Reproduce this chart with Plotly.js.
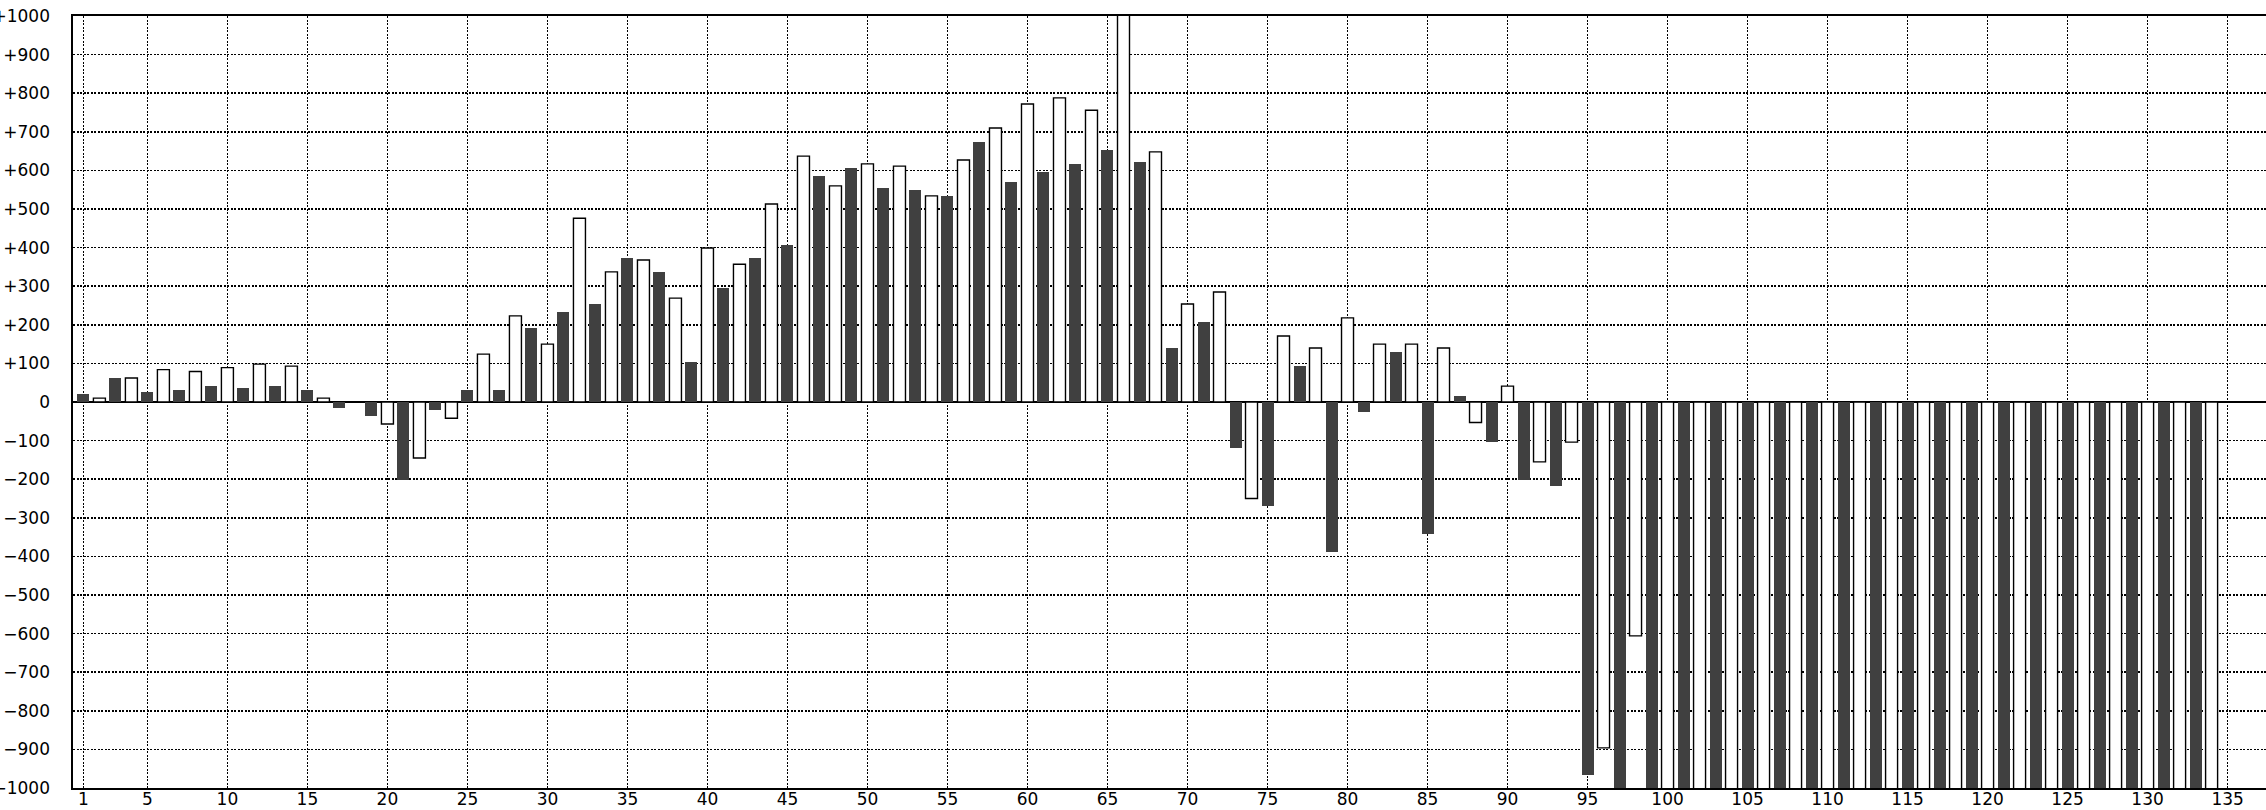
<!DOCTYPE html>
<html>
<head>
<meta charset="utf-8">
<script src="https://cdn.plot.ly/plotly-3.0.1.min.js"></script>
<style>
html,body{margin:0;padding:0;background:#fff;}
#chart{width:2266px;height:810px;}
</style>
</head>
<body>
<div id="chart"></div>
<script>
// Values for bars 1..134 (odd = dark bars, even = white bars)
const values = [
  20, 10, 61, 62, 25, 84, 30, 79, 41, 89,
  35, 98, 41, 93, 30, 10, -16, 0, -36, -57,
  -201, -145, -20, -42, 30, 124, 30, 223, 191, 150,
  232, 476, 253, 337, 372, 368, 336, 269, 103, 399,
  295, 357, 372, 513, 408, 637, 585, 560, 605, 617,
  554, 611, 548, 534, 533, 627, 673, 710, 569, 772,
  595, 788, 616, 756, 652, 1050, 621, 648, 139, 254,
  206, 285, -118, -250, -269, 171, 92, 140, -389, 218,
  -26, 150, 129, 150, -342, 140, 15, -53, -104, 41,
  -201, -155, -218, -104, -967, -896, -1050, -606, -1050, -1050,
  -1050, -1050, -1050, -1050, -1050, -1050, -1050, -1050, -1050, -1050,
  -1050, -1050, -1050, -1050, -1050, -1050, -1050, -1050, -1050, -1050,
  -1050, -1050, -1050, -1050, -1050, -1050, -1050, -1050, -1050, -1050,
  -1050, -1050, -1050, -1050
];
const yTickVals = [-1000,-900,-800,-700,-600,-500,-400,-300,-200,-100,0,100,200,300,400,500,600,700,800,900,1000];
const yTickText = ['\u22121000','\u2212900','\u2212800','\u2212700','\u2212600','\u2212500','\u2212400','\u2212300','\u2212200','\u2212100','0','+100','+200','+300','+400','+500','+600','+700','+800','+900','+1000'];
const xTickVals = [1,5,10,15,20,25,30,35,40,45,50,55,60,65,70,75,80,85,90,95,100,105,110,115,120,125,130,135];
const xTickText = ['1','5','10','15','20','25','30','35','40','45','50','55','60','65','70','75','80','85','90','95','100','105','110','115','120','125','130','135'];

const darkX = [], darkY = [], lightX = [], lightY = [];
values.forEach((v, i) => {
  const n = i + 1;
  if (n % 2 === 1) { darkX.push(n); darkY.push(v); }
  else { lightX.push(n); lightY.push(v); }
});

const font = {family: 'DejaVu Sans, sans-serif', size: 17, color: '#000'};
const data = [
  {type: 'bar', x: darkX, y: darkY, width: 0.75,
   marker: {color: '#404040', line: {width: 0}}, hoverinfo: 'x+y'},
  {type: 'bar', x: lightX, y: lightY, width: 0.75,
   marker: {color: '#ffffff', line: {color: '#000', width: 1.4}}, hoverinfo: 'x+y'}
];
const gridDash = '2px,1.5px';
const layout = {
  width: 2266, height: 810,
  margin: {l: 73, r: 0, t: 16, b: 22, autoexpand: false},
  paper_bgcolor: '#fff', plot_bgcolor: '#fff',
  showlegend: false, barmode: 'overlay', bargap: 0,
  font: font,
  xaxis: {
    range: [0.35, 137.4], tickmode: 'array', tickvals: xTickVals, ticktext: xTickText,
    showgrid: true, gridcolor: '#000', gridwidth: 1.5, griddash: gridDash,
    showline: true, linecolor: '#000', linewidth: 1.6, mirror: true,
    zeroline: false, ticks: '', ticklabelstandoff: -5, tickfont: font, automargin: false, fixedrange: true
  },
  yaxis: {
    range: [-1000, 1000], tickmode: 'array', tickvals: yTickVals, ticktext: yTickText,
    showgrid: true, gridcolor: '#000', gridwidth: 1.5, griddash: gridDash,
    showline: true, linecolor: '#000', linewidth: 1.6, mirror: false,
    zeroline: true, zerolinecolor: '#000', zerolinewidth: 1.5,
    ticks: '', ticklabelstandoff: 18, tickfont: font, automargin: false, fixedrange: true
  }
};
Plotly.newPlot('chart', data, layout, {staticPlot: true, displayModeBar: false});
</script>
</body>
</html>
